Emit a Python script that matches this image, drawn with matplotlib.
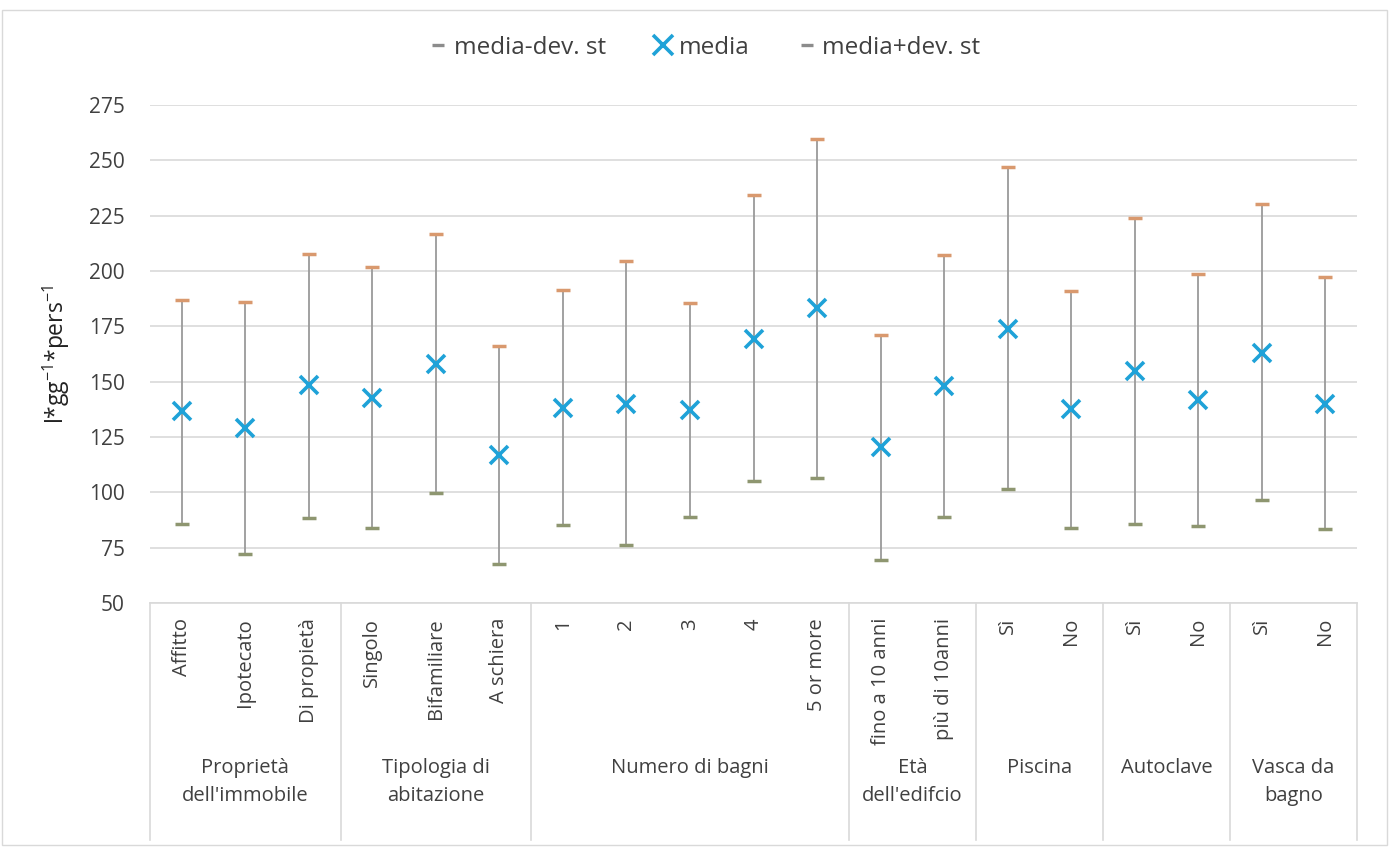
import matplotlib
matplotlib.use("Agg")
import matplotlib.pyplot as plt
from matplotlib.lines import Line2D
from matplotlib.patches import Rectangle
import matplotlib.transforms as mtransforms

plt.rcParams['font.family'] = ['Open Sans', 'DejaVu Sans']
plt.rcParams['mathtext.fontset'] = 'custom'
plt.rcParams['mathtext.rm'] = 'Open Sans'
plt.rcParams['mathtext.it'] = 'Open Sans'

categories = ["Affitto", "Ipotecato", "Di propietà", "Singolo", "Bifamiliare", "A schiera",
              "1", "2", "3", "4", "5 or more", "fino a 10 anni", "più di 10anni",
              "Sì", "No", "Sì", "No", "Sì", "No"]
groups = ["Proprietà\ndell'immobile", "Tipologia di\nabitazione", "Numero di bagni",
          "Età\ndell'edifcio", "Piscina", "Autoclave", "Vasca da\nbagno"]
group_sizes = [3, 3, 5, 2, 2, 2, 2]

media = [136.6, 129.2, 148.3, 142.6, 158.1, 117.0, 138.3, 140.1, 137.1, 169.4, 183.3,
         120.5, 148.0, 174.0, 137.5, 154.8, 141.9, 163.1, 140.1]
media_plus = [186.7, 186.0, 207.8, 201.8, 216.6, 166.1, 191.6, 204.4, 185.5, 234.2, 259.8,
              170.9, 207.4, 247.0, 191.0, 224.1, 198.8, 230.4, 197.3]
media_minus = [85.8, 72.3, 88.6, 84.0, 99.7, 67.8, 85.1, 76.4, 88.9, 105.1, 106.6,
               69.3, 88.9, 101.4, 84.0, 85.5, 85.0, 96.4, 83.6]
yticks = [50, 75, 100, 125, 150, 175, 200, 225, 250, 275]

W, H = 1390, 847
fig = plt.figure(figsize=(W / 100, H / 100), dpi=100)
fig.patches.append(Rectangle((2 / W, 2 / H), 1 - 5 / W, 1 - 12 / H, transform=fig.transFigure,
                             fill=False, edgecolor='#D9D9D9', linewidth=1))

left, right, top, bottom = 150, 1357, 105, 603
ax = fig.add_axes([left / W, 1 - bottom / H, (right - left) / W, (bottom - top) / H])

x = list(range(len(categories)))
ax.set_xlim(-0.5, len(categories) - 0.5)
ax.set_ylim(50, 275)
ax.set_yticks(yticks)
ax.yaxis.grid(True, color='#D9D9D9', linewidth=1.2)
ax.set_axisbelow(True)
for s in ['top', 'right', 'left']:
    ax.spines[s].set_visible(False)
ax.spines['bottom'].set_color('#D9D9D9')
ax.spines['bottom'].set_linewidth(1.2)
ax.tick_params(axis='y', length=0, labelsize=15, labelcolor='#404040', pad=18)
ax.tick_params(axis='x', length=0)
ax.set_xticks(x)
ax.set_xticklabels([])

# high-low lines
ax.vlines(x, media_minus, media_plus, color='#9A9A9A', linewidth=1.3, zorder=2)
ax.plot(x, media_minus, linestyle='none', marker='_', markersize=10, mew=2.5,
        color='#8E9670', zorder=3)
ax.plot(x, media_plus, linestyle='none', marker='_', markersize=10, mew=2.5,
        color='#D9996E', zorder=3)
ax.plot(x, media, linestyle='none', marker='x', markersize=13, mew=2.6,
        color='#1FA2D8', zorder=4)

ax.set_ylabel('l*gg$^{-1}$*pers$^{-1}$', fontsize=16.5, color='#222222')
ax.yaxis.set_label_coords(-(left - 72) / (right - left), 0.5)

# category tick labels
trans = mtransforms.blended_transform_factory(ax.transData, ax.transAxes)
for xi, lab in zip(x, categories):
    ax.text(xi, -(618 - bottom) / (bottom - top), lab, rotation=90, ha='center', va='top',
            fontsize=14.5, color='#404040', transform=trans)

# group separators and labels
bottom_frac = -(840 - bottom) / (bottom - top)
edges = [-0.5]
for gs in group_sizes:
    edges.append(edges[-1] + gs)
for e in edges:
    ax.plot([e, e], [0, bottom_frac], color='#D9D9D9', linewidth=1.2, transform=trans,
            clip_on=False)
label_y = -(758 - bottom) / (bottom - top)
for i, g in enumerate(groups):
    cx = (edges[i] + edges[i + 1]) / 2
    ax.text(cx, label_y, g, ha='center', va='top', fontsize=14.5, color='#404040',
            transform=trans, linespacing=1.55)

handles = [
    Line2D([], [], linestyle='none', marker='_', markersize=9, mew=2.4, color='#8C8C8C'),
    Line2D([], [], linestyle='none', marker='x', markersize=14, mew=2.6, color='#1FA2D8'),
    Line2D([], [], linestyle='none', marker='_', markersize=9, mew=2.4, color='#8C8C8C'),
]
fig.legend(handles, ['media-dev. st', 'media', 'media+dev. st'], loc='center',
           bbox_to_anchor=(705 / W, 1 - 48 / H), ncol=3, frameon=False, fontsize=17.5,
           handlelength=0.7, handletextpad=0.3, columnspacing=2.0, labelcolor='#404040')

fig.savefig('out.png', dpi=100)
